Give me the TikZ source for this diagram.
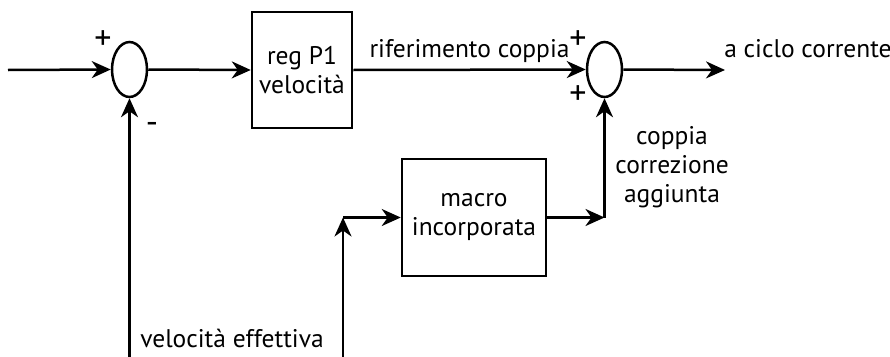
\documentclass[tikz,border=0pt]{standalone}
\usepackage{fontspec}
\setmainfont{PT Sans}
\usetikzlibrary{shapes.geometric,arrows.meta}
\begin{document}
\begin{tikzpicture}[x=1pt,y=-1pt,
  line width=2.5pt,
  every node/.style={font=\fontsize{25.5}{29}\selectfont},
  sumnode/.style={draw,ellipse,minimum width=35pt,minimum height=55pt,inner sep=0pt},
  blockbox/.style={draw,rectangle,inner sep=0pt,align=center},
  arr/.style={-{Stealth[length=19pt,width=17pt,inset=6pt]}},
  lbl/.style={inner sep=0pt},
  sign/.style={inner sep=0pt,font=\fontsize{34}{34}\selectfont}
]
\useasboundingbox (0,0) rectangle (890,356);
\node[sumnode] (s1) at (129.5,69.5) {};
\node[sumnode] (s2) at (604.5,69.5) {};
\node[blockbox,minimum width=100pt,minimum height=116pt] (reg) at (302,70) {reg P1\\velocità};
\node[blockbox,minimum width=144pt,minimum height=117pt] (mac) at (474,217.5) {macro\\incorporata};
\coordinate (in) at (8,70);
\coordinate (fb) at (129.5,358);
\coordinate (vb) at (343,358);
\coordinate (vt) at (343,217.5);
\coordinate (cj) at (604.5,217.5);
\coordinate (out) at (725,70);
\draw[arr] (in) -- (s1.west);
\draw[arr] (s1.east) -- (reg.west);
\draw[arr] (reg.east) -- node[lbl,above=6pt] (lr) {riferimento coppia} (s2.west);
\draw[arr] (s2.east) -- (out);
\draw[arr] (fb) -- (s1.south);
\draw[arr] (vb) -- (vt);
\draw[arr] (vt) -- (mac.west);
\draw[arr] (mac.east) -- (cj);
\draw[arr] (cj) -- (s2.south);
\node[lbl,anchor=base west] (lout) at (723,57) {a ciclo corrente};
\node[lbl,align=center] (lcor) at (672,167) {coppia\\correzione\\aggiunta};
\node[lbl,anchor=base] (lvel) at (232,347) {velocità effettiva};
\node[sign] (p1) at (103,40) {+};
\node[sign] (m1) at (152,128) {-};
\node[sign] (p2) at (578,40) {+};
\node[sign] (p3) at (578,95) {+};
\end{tikzpicture}
\end{document}
